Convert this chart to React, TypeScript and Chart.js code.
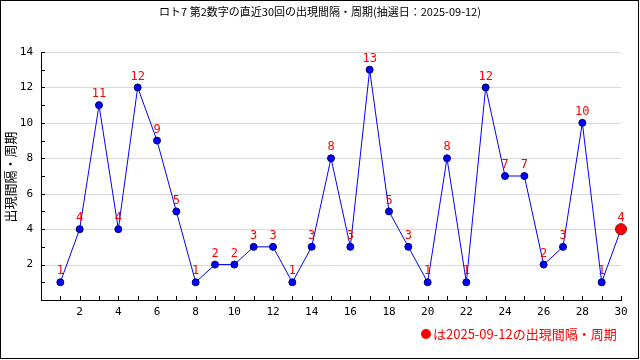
import React, { useEffect, useRef } from 'react';
import { Chart, registerables } from 'chart.js';
Chart.register(...registerables);

const draws = [1, 2, 3, 4, 5, 6, 7, 8, 9, 10, 11, 12, 13, 14, 15, 16, 17, 18, 19, 20, 21, 22, 23, 24, 25, 26, 27, 28, 29, 30];
const intervals = [1, 4, 11, 4, 12, 9, 5, 1, 2, 2, 3, 3, 1, 3, 8, 3, 13, 5, 3, 1, 8, 1, 12, 7, 7, 2, 3, 10, 1, 4];
const yGridValues = [2, 4, 6, 8, 10, 12, 14];
const titleText = 'ロト7 第2数字の直近30回の出現間隔・周期(抽選日：2025-09-12)';
const yTitle = '出現間隔・周期';
const legendText = 'は2025-09-12の出現間隔・周期';

const FONT = '"DejaVu Sans Mono", "Noto Sans CJK JP", monospace';
const CJK = '"Noto Sans CJK JP", "DejaVu Sans", sans-serif';

const underlay = {
  id: 'underlay',
  beforeDatasetsDraw(chart: any) {
    const { ctx, scales } = chart;
    const xs = scales.x, ys = scales.y;
    const left = xs.getPixelForValue(0);
    const right = xs.getPixelForValue(30);
    ctx.save();
    ctx.beginPath();
    ctx.rect(left, ys.getPixelForValue(14) - 1, right - left + 0.5, ys.getPixelForValue(0) - ys.getPixelForValue(14) + 1);
    ctx.clip();
    ctx.strokeStyle = '#d9d9d9';
    ctx.lineWidth = 1;
    ctx.beginPath();
    yGridValues.forEach((v) => {
      const py = Math.round(ys.getPixelForValue(v)) + 0.5;
      ctx.moveTo(left + 1, py);
      ctx.lineTo(right, py);
    });
    ctx.stroke();
    ctx.restore();
  },
};

const overlay = {
  id: 'overlay',
  afterDraw(chart: any) {
    const { ctx, scales } = chart;
    const xs = scales.x, ys = scales.y;
    const left = xs.getPixelForValue(0);
    const bottom = ys.getPixelForValue(0);
    ctx.save();
    // inward ticks
    ctx.strokeStyle = '#000';
    ctx.lineWidth = 1;
    ctx.beginPath();
    for (let i = 1; i <= 30; i++) {
      const px = Math.round(xs.getPixelForValue(i)) + 0.5;
      ctx.moveTo(px, bottom);
      ctx.lineTo(px, bottom - 4);
    }
    for (let j = 1; j <= 14; j++) {
      const py = Math.round(ys.getPixelForValue(j)) + 0.5;
      ctx.moveTo(left, py);
      ctx.lineTo(left + 4, py);
    }
    ctx.stroke();
    // data labels
    ctx.font = '12px ' + FONT;
    ctx.fillStyle = '#ff0000';
    ctx.textAlign = 'center';
    ctx.textBaseline = 'middle';
    intervals.forEach((v, i) => {
      const px = xs.getPixelForValue(draws[i]);
      const py = ys.getPixelForValue(v);
      ctx.fillText(String(v), px, py - 11);
    });
    // title
    ctx.fillStyle = '#000';
    ctx.font = '11px ' + CJK;
    ctx.fillText(titleText, 320, 12);
    // y title
    ctx.save();
    ctx.translate(10, 177);
    ctx.rotate(-Math.PI / 2);
    ctx.font = '13px ' + CJK;
    ctx.fillText(yTitle, 0, 0);
    ctx.restore();
    // legend
    ctx.fillStyle = '#ff0000';
    ctx.beginPath();
    ctx.arc(426, 334, 5, 0, Math.PI * 2);
    ctx.fill();
    ctx.font = '13px ' + CJK;
    ctx.textAlign = 'left';
    ctx.fillText(legendText, 433, 334);
    // frame
    ctx.strokeStyle = '#000';
    ctx.lineWidth = 1;
    ctx.strokeRect(0.5, 0.5, 638, 358);
    ctx.restore();
  },
};

export default function App() {
  const ref = useRef<HTMLCanvasElement>(null);
  useEffect(() => {
    const n = intervals.length;
    const chart = new Chart(ref.current!, {
      type: 'line',
      data: {
        datasets: [
          {
            data: draws.map((d, i) => ({ x: d, y: intervals[i] })),
            borderColor: '#0000ff',
            borderWidth: 1,
            tension: 0,
            clip: false,
            pointRadius: intervals.map((_, i) => (i === n - 1 ? 5.5 : 3.5)),
            pointBackgroundColor: intervals.map((_, i) => (i === n - 1 ? '#ff0000' : '#0000ff')),
            pointBorderColor: intervals.map((_, i) => (i === n - 1 ? '#990000' : '#000066')),
            pointBorderWidth: 1,
          } as any,
        ],
      },
      options: {
        animation: false,
        responsive: false,
        events: [],
        layout: { padding: { left: 8, right: 19, top: 52, bottom: 0 } },
        plugins: { legend: { display: false }, tooltip: { enabled: false }, title: { display: false } },
        scales: {
          x: {
            type: 'linear',
            min: 0,
            max: 30,
            afterFit: (s: any) => { s.height = 60; },
            grid: { display: false, drawTicks: false },
            border: { display: true, color: '#000', width: 1 },
            ticks: {
              stepSize: 2,
              padding: 6,
              color: '#000',
              font: { family: FONT, size: 11 },
              callback: (v: any) => (v === 0 ? '' : String(v)),
            },
          },
          y: {
            min: 0,
            max: 14,
            afterFit: (s: any) => { s.width = 33; },
            grid: { display: false, drawTicks: false },
            border: { display: true, color: '#000', width: 1 },
            ticks: {
              stepSize: 2,
              padding: 8,
              color: '#000',
              font: { family: FONT, size: 11 },
              callback: (v: any) => (v === 0 ? '' : String(v)),
            },
          },
        },
      },
      plugins: [underlay, overlay],
    });
    return () => chart.destroy();
  }, []);
  return (
    <div style={{ position: 'fixed', left: 0, top: 0, width: 640, height: 360, background: '#fff' }}>
      <canvas ref={ref} width={640} height={360} style={{ display: 'block' }} />
    </div>
  );
}
